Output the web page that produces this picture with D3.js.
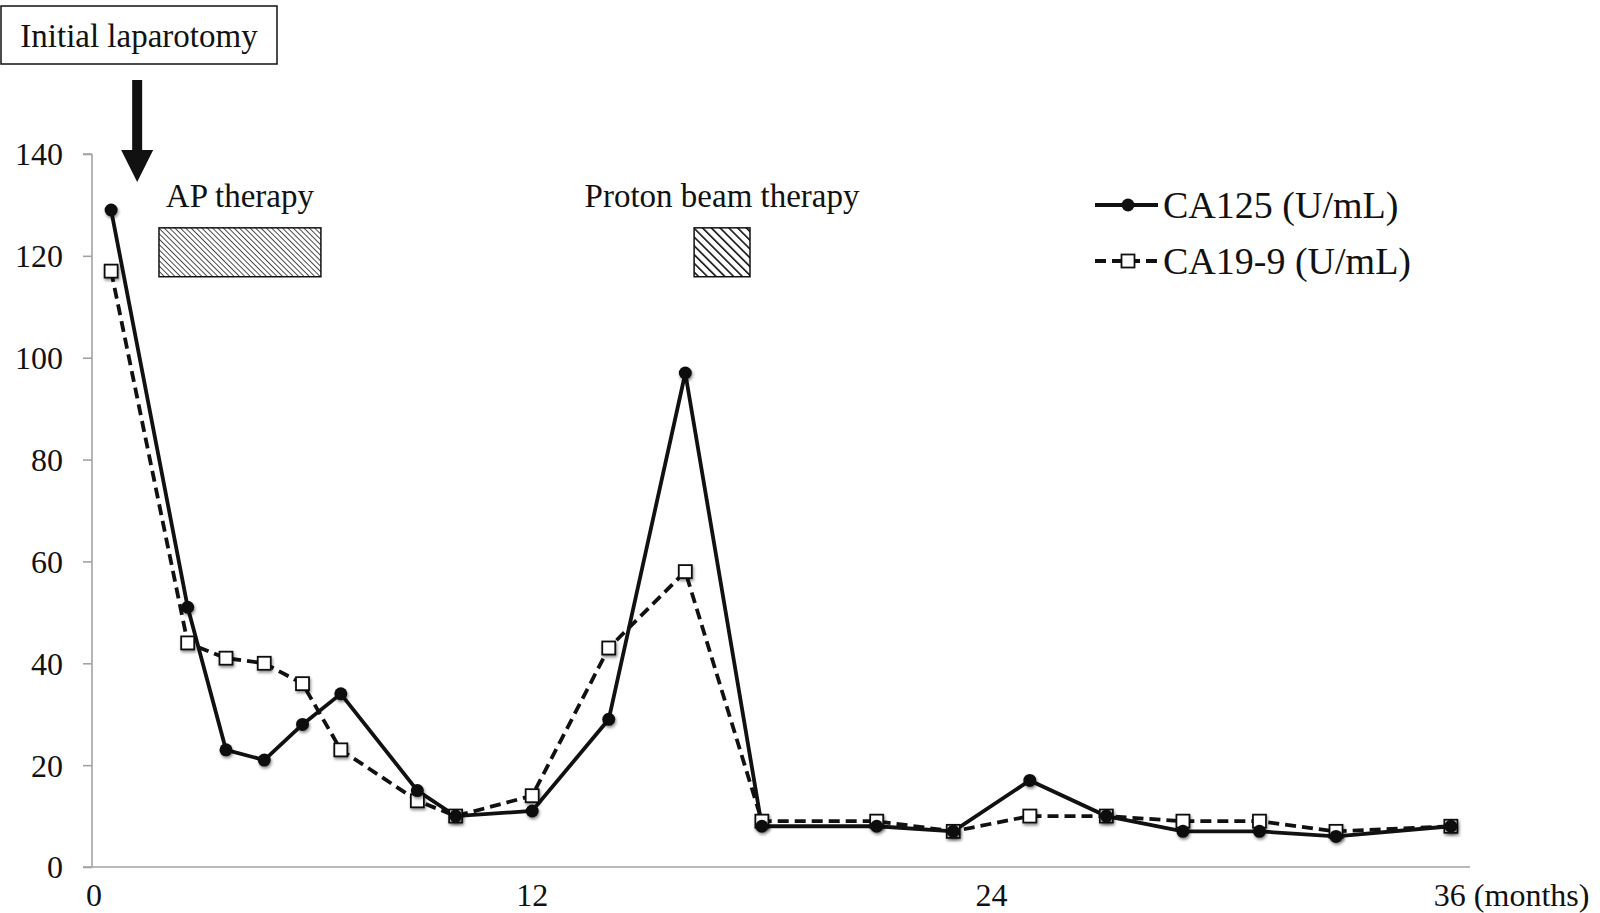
<!DOCTYPE html>
<html>
<head>
<meta charset="utf-8">
<script src="https://cdn.jsdelivr.net/npm/d3@7"></script>
<style>
  body { margin: 0; background: #fff; }
  svg { display: block; font-family: "Liberation Serif", "Times New Roman", serif; }
</style>
</head>
<body>
<div id="chart"></div>
<script>
"use strict";

// months after surgery (category axis, 1..36)
const months = [1, 3, 4, 5, 6, 7, 9, 10, 12, 14, 16, 18, 21, 23, 25, 27, 29, 31, 33, 36];
const ca125 = [129, 51, 23, 21, 28, 34, 15, 10, 11, 29, 97, 8, 8, 7, 17, 10, 7, 7, 6, 8];
const ca199 = [117, 44, 41, 40, 36, 23, 13, 10, 14, 43, 58, 9, 9, 7, 10, 10, 9, 9, 7, 8];
const yTicks = [0, 20, 40, 60, 80, 100, 120, 140];
const xLabels = [12, 24, 36];
const seriesNames = ["CA125 (U/mL)", "CA19-9 (U/mL)"];
// therapy periods [start, end] in months, and their band on the y scale
const therapies = [
  { name: "AP therapy", span: [1.75, 5.98], pattern: "hatchFine" },
  { name: "Proton beam therapy", span: [15.73, 17.19], pattern: "hatchBold" }
];
const therapyBand = [125.5, 115.9];
const arrowMonth = 1.18;

const width = 1600, height = 913;
const svg = d3.select("#chart").append("svg")
  .attr("width", width).attr("height", height);

const defs = svg.append("defs");
defs.append("filter").attr("id", "shadow")
  .attr("x", "-50%").attr("y", "-50%").attr("width", "200%").attr("height", "200%")
  .append("feDropShadow")
    .attr("dx", 1).attr("dy", 2).attr("stdDeviation", 1.6)
    .attr("flood-color", "#000").attr("flood-opacity", 0.45);

const hatch = (id, sp, sw) => {
  defs.append("pattern").attr("id", id)
    .attr("patternUnits", "userSpaceOnUse")
    .attr("width", sp).attr("height", sp)
    .attr("patternTransform", "rotate(-45)")
    .append("line")
      .attr("x1", 0).attr("y1", -1).attr("x2", 0).attr("y2", sp + 1)
      .attr("stroke", "#111").attr("stroke-width", sw);
};
hatch("hatchFine", 3.8, 1.5);
hatch("hatchBold", 6.2, 3.2);

// scales
const x = d3.scaleBand().domain(d3.range(1, 37)).range([92, 1470]).paddingInner(0).paddingOuter(0);
const xm = d3.scaleLinear().domain([0, 36]).range([92, 1470]); // continuous months for annotations
const y = d3.scaleLinear().domain([0, 140]).range([867, 154]);
const px = m => x(m) + x.bandwidth() / 2;

// axes
const axisColor = "#a3a3a3";
const yAxis = svg.append("g").attr("transform", "translate(92,0)")
  .call(d3.axisLeft(y).tickValues(yTicks).tickSize(9).tickPadding(20).tickFormat(d3.format("d")));
yAxis.select(".domain").attr("stroke", axisColor).attr("stroke-width", 1.6).attr("d", `M0,${y(0)}V${y(140)}M-9,${y(140)}H0`);
yAxis.selectAll(".tick line").attr("stroke", axisColor).attr("stroke-width", 1.6);
yAxis.selectAll(".tick text").attr("fill", "#111").style("font-size", "32px")
  .style("font-family", "Liberation Serif").attr("dy", "0.34em");

svg.append("line")
  .attr("x1", 83).attr("x2", x.range()[1])
  .attr("y1", y(0)).attr("y2", y(0))
  .attr("stroke", axisColor).attr("stroke-width", 1.6);

const xl = svg.append("g").style("font-size", "32px").attr("fill", "#111");
xl.append("text").attr("x", xm(0) + 2).attr("y", 906).attr("text-anchor", "middle").text("0");
xLabels.forEach(m => {
  const t = xl.append("text").attr("x", px(m)).attr("y", 906);
  if (m === 36) {
    t.attr("text-anchor", "start").attr("x", px(m) - 17).text("36 (months)");
  } else {
    t.attr("text-anchor", "middle").text(m);
  }
});

// therapy bars
therapies.forEach(t => {
  const x0 = xm(t.span[0]), x1 = xm(t.span[1]);
  svg.append("rect")
    .attr("x", x0).attr("y", y(therapyBand[0]))
    .attr("width", x1 - x0).attr("height", y(therapyBand[1]) - y(therapyBand[0]))
    .attr("fill", `url(#${t.pattern})`)
    .attr("stroke", "#111").attr("stroke-width", 1.5);
  svg.append("text")
    .attr("x", (x0 + x1) / 2).attr("y", 207)
    .attr("text-anchor", "middle").style("font-size", "33px").attr("fill", "#111")
    .text(t.name);
});

// initial laparotomy box + arrow
svg.append("rect").attr("x", 1).attr("y", 6).attr("width", 276).attr("height", 58)
  .attr("fill", "#fff").attr("stroke", "#111").attr("stroke-width", 1.5);
svg.append("text").attr("x", 139).attr("y", 47).attr("text-anchor", "middle")
  .style("font-size", "33px").attr("fill", "#111").text("Initial laparotomy");
const ax = xm(arrowMonth);
svg.append("path")
  .attr("d", `M${ax - 5},80 H${ax + 5} V150 H${ax + 16} L${ax},182 L${ax - 16},150 H${ax - 5} Z`)
  .attr("fill", "#111");

// series
const seriesData = [ca125, ca199].map(vals => months.map((m, i) => ({ m, v: vals[i] })));
const line = d3.line().x(d => px(d.m)).y(d => y(d.v));

svg.append("path").datum(seriesData[1])
  .attr("d", line).attr("fill", "none")
  .attr("stroke", "#111").attr("stroke-width", 3.8).attr("stroke-dasharray", "11,6");
svg.append("path").datum(seriesData[0])
  .attr("d", line).attr("fill", "none")
  .attr("stroke", "#111").attr("stroke-width", 3.8);

svg.append("g").selectAll("rect").data(seriesData[1]).join("rect")
  .attr("x", d => px(d.m) - 6.5).attr("y", d => y(d.v) - 6.5)
  .attr("width", 13).attr("height", 13)
  .attr("fill", "#fff").attr("stroke", "#111").attr("stroke-width", 1.8)
  .attr("filter", "url(#shadow)");
svg.append("g").selectAll("circle").data(seriesData[0]).join("circle")
  .attr("cx", d => px(d.m)).attr("cy", d => y(d.v)).attr("r", 6.5)
  .attr("fill", "#111").attr("filter", "url(#shadow)");

// legend
const lg = svg.append("g").attr("transform", "translate(1095,0)");
const rows = [205, 261];
seriesNames.forEach((name, i) => {
  const g = lg.append("g").attr("transform", `translate(0,${rows[i]})`);
  g.append("line").attr("x1", 0).attr("x2", 63).attr("y1", 0).attr("y2", 0)
    .attr("stroke", "#111").attr("stroke-width", 3.8)
    .attr("stroke-dasharray", i === 1 ? "11,6" : null);
  if (i === 0) {
    g.append("circle").attr("cx", 33).attr("cy", 0).attr("r", 6.5).attr("fill", "#111");
  } else {
    g.append("rect").attr("x", 26.5).attr("y", -6.5).attr("width", 13).attr("height", 13)
      .attr("fill", "#fff").attr("stroke", "#111").attr("stroke-width", 1.8);
  }
  g.append("text").attr("x", 68).attr("y", 0).attr("dy", "0.35em")
    .style("font-size", "38px").attr("fill", "#111").text(name);
});
</script>
</body>
</html>
